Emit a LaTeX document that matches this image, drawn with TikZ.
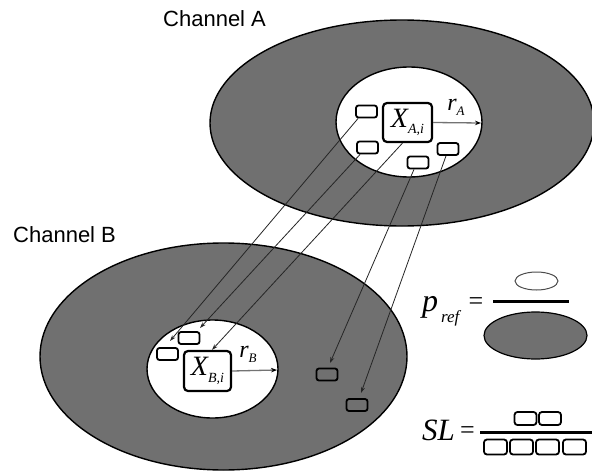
\documentclass[tikz,border=0pt]{standalone}
\usepackage{fontspec}
\setmainfont{Liberation Serif}
\newfontfamily\chanfont{Liberation Sans}
\usetikzlibrary{arrows.meta}
\definecolor{chgray}{RGB}{112,112,112}
\newcommand\xlab[2]{{\fontsize{28}{28}\selectfont\itshape X}\raisebox{-6.5pt}{\fontsize{14}{14}\selectfont\itshape #1,#2}}
\newcommand\rlab[1]{{\fontsize{24}{24}\selectfont\itshape r}\raisebox{-5pt}{\fontsize{13}{13}\selectfont\itshape #1}}
\begin{document}
\begin{tikzpicture}[x=1pt,y=-1pt,
  ring/.style={fill=chgray,draw=black,line width=1.4pt},
  hole/.style={fill=white,draw=black,line width=1.4pt},
  sbox/.style={draw=black,line width=1.8pt,rounded corners=2.5pt,minimum width=21pt,minimum height=12pt,inner sep=0pt},
  bigbox/.style={draw=black,line width=2.2pt,rounded corners=4pt,minimum width=49pt,minimum height=39pt,inner sep=0pt,fill=white},
  fbox/.style={draw=black,line width=1.8pt,rounded corners=3pt,minimum width=22pt,minimum height=14pt,inner sep=0pt},
  arr/.style={draw=black!85,line width=0.8pt,-{Stealth[length=6pt,width=4pt]}},
  rarr/.style={draw=black!55,line width=1.3pt,-{Stealth[length=6pt,width=4.5pt,color=black]}},
  chan/.style={font=\chanfont\fontsize{22}{26}\selectfont,anchor=base west,inner sep=0pt}]
\useasboundingbox (0,0) rectangle (592,471);
\clip (0,0) rectangle (592,471);
\fill[white] (0,0) rectangle (592,471);

% Channel A
\draw[ring] (402,123) ellipse [x radius=192pt, y radius=103pt];
\draw[hole] (409,122) ellipse [x radius=73pt, y radius=55pt];
% Channel B
\draw[ring] (223.5,356.5) ellipse [x radius=183.5pt, y radius=113.5pt];
\draw[hole] (212.5,369) ellipse [x radius=65.5pt, y radius=49pt];

\node[chan] (chA) at (163,26) {Channel A};
\node[chan] (chB) at (13,242) {Channel B};

% boxes in A
\node[bigbox] (XA) at (407.5,122.5) {\xlab{A}{i}};
\node[sbox,fill=white] (a1) at (366.5,111.5) {};
\node[sbox,fill=white] (a2) at (367.5,147.5) {};
\node[sbox,fill=white] (a3) at (418,162.5) {};
\node[sbox,fill=white] (a4) at (448,149) {};
\coordinate (ea) at (481,123);
\draw[rarr] (XA.east) -- (ea);
\node (rA) at (456,107) {\rlab{A}};

% boxes in B
\node[bigbox,minimum width=47pt,minimum height=40pt] (XB) at (207.5,371) {\xlab{B}{i}};
\node[sbox,fill=white] (b1) at (167.5,354) {};
\node[sbox,fill=white] (b2) at (189,338) {};
\node[sbox] (b3) at (327,374.5) {};
\node[sbox] (b4) at (357,405) {};
\coordinate (eb) at (277,370);
\draw[rarr] (XB.east) -- (eb);
\node (rB) at (248,354) {\rlab{B}};

% connectors
\coordinate (t1) at (170,341);
\coordinate (t2) at (200,328);
\coordinate (t4) at (330,363);
\coordinate (t5) at (361,393);
\draw[arr] ([xshift=3pt]a1.south west) -- (t1);
\draw[arr] ([xshift=4pt]a2.south west) -- (t2);
\draw[arr] ([xshift=-5pt]XA.south) -- ([xshift=4.5pt]XB.north);
\draw[arr] ([xshift=-4pt]a3.south) -- (t4);
\draw[arr] ([xshift=-2pt]a4.south) -- (t5);

% p_ref formula
\node[anchor=base west,inner sep=0pt] (p) at (422,311) {\fontsize{32}{32}\selectfont\itshape p};
\node[anchor=base west,inner sep=0pt] (pref) at (441,322) {\fontsize{17}{17}\selectfont\itshape ref};
\node[anchor=base,inner sep=0pt] (eq1) at (476,309) {\fontsize{26}{26}\selectfont =};
\draw[draw=black!70,line width=1pt,fill=white] (536.5,281) ellipse [x radius=21.5pt, y radius=9pt];
\coordinate (f1l) at (493,301);
\coordinate (f1r) at (569,301);
\draw[line width=3pt] (f1l) -- (f1r);
\draw[ring,line width=1.2pt] (535.5,335.5) ellipse [x radius=51.5pt, y radius=23.5pt];

% SL formula
\node[anchor=base west,inner sep=0pt] (SL) at (422,440) {\fontsize{31}{31}\selectfont\itshape SL};
\node[anchor=base,inner sep=0pt] (eq2) at (467.5,438) {\fontsize{26}{26}\selectfont =};
\coordinate (f2l) at (480,432);
\coordinate (f2r) at (592,432);
\draw[line width=3pt] (f2l) -- (f2r);
\node[fbox,minimum height=13pt] (s1) at (525.5,418.5) {};
\node[fbox,minimum height=13pt] (s2) at (550,418.5) {};
\node[fbox,minimum width=23pt,minimum height=15pt] (s3) at (495.5,447) {};
\node[fbox,minimum width=23pt,minimum height=15pt] (s4) at (521.5,447) {};
\node[fbox,minimum width=23pt,minimum height=15pt] (s5) at (547.5,447) {};
\node[fbox,minimum width=23pt,minimum height=15pt] (s6) at (574.5,447) {};
\end{tikzpicture}
\end{document}
